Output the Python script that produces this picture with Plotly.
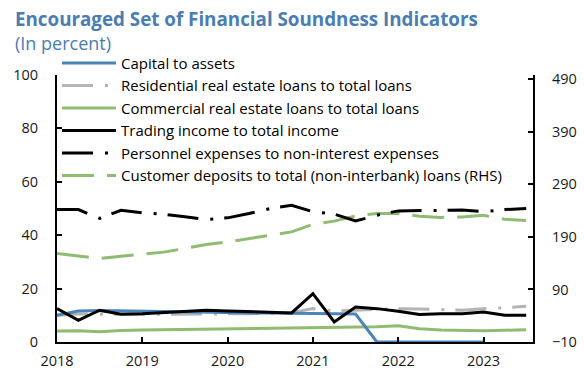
import plotly.graph_objects as go

# Quarterly observations, 2018Q1 to 2023Q3
quarters = [2018 + 0.25 * i for i in range(23)]

capital_to_assets = [10.0, 11.6, 11.8, 11.6, 11.5, 11.4, 11.3, 11.1, 11.0, 10.9, 10.9, 10.8,
                     10.6, 10.5, 10.5, 0, 0, 0, 0, 0, 0, None, None]
residential_re = [10.0, 10.5, 10.4, 10.3, 10.4, 10.4, 10.4, 10.5, 10.5, 10.6, 10.7, 11.0,
                  12.5, 11.6, 11.9, 12.2, 12.5, 12.4, 12.2, 11.9, 12.5, 12.8, 13.4]
commercial_re = [4.1, 4.2, 3.8, 4.3, 4.5, 4.6, 4.7, 4.8, 4.9, 5.0, 5.1, 5.3,
                 5.5, 5.5, 5.5, 5.7, 6.1, 5.0, 4.5, 4.3, 4.2, 4.4, 4.6]
trading_income = [12.5, 8.1, 11.9, 10.4, 10.6, 11.0, 11.4, 11.9, 11.6, 11.4, 11.2, 10.9,
                  18.1, 7.5, 13.1, 12.5, 11.5, 10.3, 10.6, 10.6, 11.2, 10.0, 10.0]
personnel_exp = [49.6, 49.6, 46.3, 49.3, 48.4, 47.8, 46.9, 45.9, 46.5, 48.1, 50.0, 51.2,
                 48.8, 47.9, 45.3, 47.5, 49.1, 49.2, 49.1, 49.4, 48.8, 49.6, 50.0]
customer_deposits = [158.4, 153.8, 148.9, 153, 157, 161, 168, 175.5, 180.5, 187, 193, 199.5,
                     214, 220, 230, 234.6, 234.6, 229.4, 227, 228, 231, 223.5, 221]

year_ticks = [2018, 2019, 2020, 2021, 2022, 2023]
left_ticks = [0, 20, 40, 60, 80, 100]
right_ticks = [-10, 90, 190, 290, 390, 490]

BLUE = "#4a84b8"
GREEN = "#8fbc70"
GRAY = "#b4b4b4"
BLACK = "#000000"
TITLE_BLUE = "#4a7db4"
FONT = "Open Sans"

fig = go.Figure()

# RHS series sits on the primary (right-hand) axis so the LHS lines draw above it
fig.add_trace(go.Scatter(
    x=quarters, y=customer_deposits, mode="lines", yaxis="y",
    name="Customer deposits to total (non-interbank) loans (RHS)", legendrank=6,
    line=dict(color=GREEN, width=3, dash="32px,13px")))
fig.add_trace(go.Scatter(
    x=quarters, y=commercial_re, mode="lines", yaxis="y2",
    name="Commercial real estate loans to total loans", legendrank=3,
    line=dict(color=GREEN, width=3)))
fig.add_trace(go.Scatter(
    x=quarters, y=residential_re, mode="lines", yaxis="y2",
    name="Residential real estate loans to total loans", legendrank=2,
    line=dict(color=GRAY, width=3, dash="31px,12px,3px,11px")))
fig.add_trace(go.Scatter(
    x=quarters, y=capital_to_assets, mode="lines", yaxis="y2",
    name="Capital to assets", legendrank=1,
    line=dict(color=BLUE, width=3)))
fig.add_trace(go.Scatter(
    x=quarters, y=personnel_exp, mode="lines", yaxis="y2",
    name="Personnel expenses to non-interest expenses", legendrank=5,
    line=dict(color=BLACK, width=3, dash="31px,12px,3px,11px")))
fig.add_trace(go.Scatter(
    x=quarters, y=trading_income, mode="lines", yaxis="y2",
    name="Trading income to total income", legendrank=4,
    line=dict(color=BLACK, width=3)))

axis_common = dict(
    showline=True, linecolor="black", linewidth=2, showgrid=False, zeroline=False,
    ticks="inside", ticklen=5, tickwidth=1.5, tickcolor="black", automargin=False,
    tickfont=dict(family=FONT, size=14.5, color="#1a1a1a"),
)

fig.update_layout(
    width=584, height=370,
    margin=dict(l=57, r=51, t=75, b=28, pad=0, autoexpand=False),
    paper_bgcolor="white", plot_bgcolor="white",
    font=dict(family=FONT, color="black"),
    xaxis=dict(range=[2018, 2023.58], tickvals=year_ticks,
               ticktext=[str(y) for y in year_ticks], ticklabelstandoff=5, **axis_common),
    yaxis=dict(side="right", range=[-10, 498], tickvals=right_ticks,
               ticklabelstandoff=14, **axis_common),
    yaxis2=dict(side="left", overlaying="y", range=[0, 100], tickvals=left_ticks,
                ticklabelstandoff=14, **axis_common),
    legend=dict(
        x=0.0, y=1.106, xanchor="left", yanchor="top",
        bgcolor="rgba(0,0,0,0)", borderwidth=0,
        font=dict(family=FONT, size=15, color="black"),
        itemwidth=54,
    ),
    showlegend=True,
    annotations=[
        dict(text="<b>Encouraged Set of Financial Soundness Indicators</b>",
             xref="paper", yref="paper", x=(13 - 57) / 475.7, y=(341.7 - 19) / 266.7,
             xanchor="left", yanchor="middle", showarrow=False,
             font=dict(family=FONT, size=18.8, color=TITLE_BLUE)),
        dict(text="(In percent)",
             xref="paper", yref="paper", x=(13 - 57) / 475.7, y=(341.7 - 43) / 266.7,
             xanchor="left", yanchor="middle", showarrow=False,
             font=dict(family=FONT, size=18, color=TITLE_BLUE)),
    ],
)

fig.write_html("out.html")
